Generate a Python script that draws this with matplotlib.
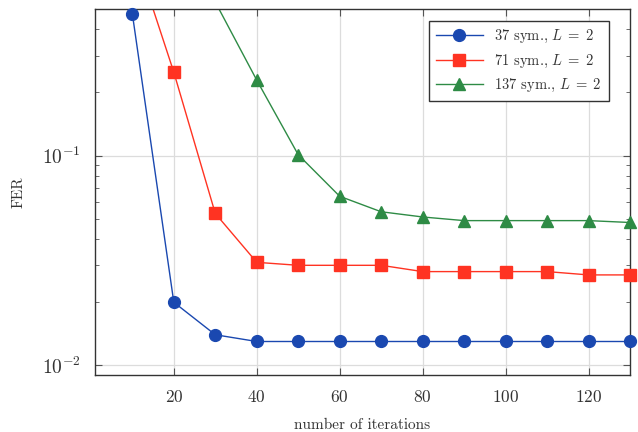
import matplotlib
matplotlib.use("Agg")
import matplotlib.pyplot as plt
from matplotlib.ticker import LogLocator, NullFormatter, FixedLocator, FuncFormatter
import numpy as np

plt.rcParams['font.family'] = ['cmr10', 'DejaVu Serif']
plt.rcParams['mathtext.fontset'] = 'cm'
plt.rcParams['axes.formatter.use_mathtext'] = True

# Data
x_blue = [10, 20, 30, 40, 50, 60, 70, 80, 90, 100, 110, 120, 130]
y_blue = [0.475, 0.020, 0.014, 0.013, 0.013, 0.013, 0.013, 0.013, 0.013, 0.013, 0.013, 0.013, 0.013]
x_red = [10, 20, 30, 40, 50, 60, 70, 80, 90, 100, 110, 120, 130]
y_red = [1.0, 0.25, 0.053, 0.031, 0.030, 0.030, 0.030, 0.028, 0.028, 0.028, 0.028, 0.027, 0.027]
x_green = [30, 40, 50, 60, 70, 80, 90, 100, 110, 120, 130]
y_green = [0.54, 0.229, 0.101, 0.064, 0.054, 0.051, 0.049, 0.049, 0.049, 0.049, 0.048]
labels = ["37 sym., $L\\;=\\;2$", "71 sym., $L\\;=\\;2$", "137 sym., $L\\;=\\;2$"]
xticks = [20, 40, 60, 80, 100, 120]

fig = plt.figure(figsize=(6.38, 4.32), dpi=100)
ax = fig.add_axes([95/638, 1-375/432, (630-95)/638, (375-9)/432])

ylim = (0.009, 0.5)
series = [(x_blue, y_blue, '#1a48b0', 'o'),
          (x_red, y_red, '#ff3322', 's'),
          (x_green, y_green, '#2e8b45', '^')]
for (xs, ys, c, m), lab in zip(series, labels):
    ax.plot(xs, ys, color=c, lw=1.0, label=lab, marker=m, ms=8.5, markevery=[])
    xs_a = np.array(xs); ys_a = np.array(ys)
    inside = (ys_a <= ylim[1]) & (ys_a >= ylim[0])
    ax.plot(xs_a[inside], ys_a[inside], ls='none', marker=m, ms=8.5, color=c,
            clip_on=False, zorder=4)

ax.set_yscale('log')
ax.set_xlim(1, 130)
ax.set_ylim(*ylim)
ax.xaxis.set_major_locator(FixedLocator(xticks))
ax.yaxis.set_major_locator(LogLocator(base=10, numticks=10))
ax.yaxis.set_minor_locator(LogLocator(base=10, subs=range(2, 10), numticks=20))
ax.yaxis.set_minor_formatter(NullFormatter())
ax.yaxis.set_major_formatter(FuncFormatter(lambda v, p: r'$10^{%d}$' % int(round(np.log10(v)))))

ax.grid(True, which='major', color='#dcdcdc', lw=0.9)
ax.set_axisbelow(True)
ax.tick_params(which='both', direction='in', top=True, right=True, colors='#555555',
               labelcolor='#333333')
ax.tick_params(axis='x', labelsize=12.5, pad=10)
ax.tick_params(axis='y', labelsize=14, pad=10)
ax.tick_params(which='major', length=5)
ax.tick_params(which='minor', length=3)
for s in ax.spines.values():
    s.set_color('#333333')
    s.set_linewidth(1.0)

ax.set_xlabel('number of iterations', fontsize=11, color='#333333', labelpad=10)
ax.set_ylabel('FER', fontsize=11, color='#333333', labelpad=12)

leg = ax.legend(loc='upper right', bbox_to_anchor=(0.9607, 0.967), borderaxespad=0,
                fontsize=10.5, handlelength=3.2, fancybox=False, edgecolor='#333333',
                framealpha=1, labelspacing=0.5, borderpad=0.5)
leg.get_frame().set_linewidth(1.0)
for t in leg.get_texts():
    t.set_color('#333333')

fig.savefig('out.png', dpi=100)
